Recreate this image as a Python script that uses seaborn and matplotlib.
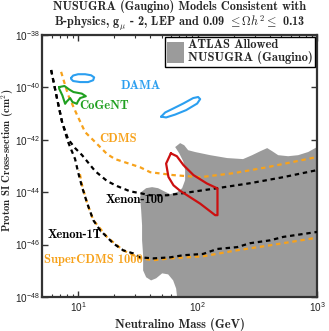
import numpy as np
import pandas as pd
import matplotlib
matplotlib.use("Agg")
import matplotlib.pyplot as plt
import seaborn as sns
from matplotlib.patches import Patch
from matplotlib.ticker import FixedLocator, FuncFormatter, LogLocator, NullLocator, NullFormatter

# ---------------- data (neutralino mass in GeV, log10 of sigma in cm^2) ----------------
xenon1t_mass = [5.95, 6.68, 7.35, 8.25, 9.44, 10.0, 10.8, 11.9, 13.4, 15.3, 17.5, 19.6, 23.8,
                28.9, 33.0, 42.5, 58.9, 75.7, 111, 146, 214, 275, 405, 520, 1000]
xenon1t_logsig = [-39.34, -40.45, -41.33, -42.09, -42.74, -43.24, -43.81, -44.42, -45.07, -45.46,
                  -45.72, -45.95, -46.22, -46.34, -46.49, -46.53, -46.49, -46.41, -46.36, -46.17,
                  -46.10, -45.95, -45.84, -45.71, -45.52]

xenon100_mass = [5.95, 6.68, 7.35, 8.25, 9.44, 10.8, 13.9, 17.5, 21.2, 27.2, 33.0, 40.1, 55.6,
                 75.7, 146, 275, 520, 1000]
xenon100_logsig = [-39.34, -40.45, -41.33, -41.98, -42.32, -42.59, -43.20, -43.58, -43.77, -43.97,
                   -44.04, -44.12, -44.12, -44.04, -43.85, -43.66, -43.43, -43.16]

cdms_mass = [7.21, 8.25, 9.81, 11.45, 13.9, 17.5, 20.4, 33.0, 40.1, 62.4, 105, 198, 382, 1000]
cdms_logsig = [-39.41, -40.29, -41.06, -41.71, -42.09, -42.55, -42.74, -43.05, -43.24, -43.35,
               -43.43, -43.28, -43.05, -42.66]

supercdms_mass = [10.2, 10.8, 11.9, 13.4, 17.5, 23.8, 33.0, 42.5, 58.9, 111, 214, 405, 1000]
supercdms_logsig = [-43.16, -43.74, -44.42, -45.07, -45.72, -46.22, -46.53, -46.60, -46.53,
                    -46.45, -46.22, -46.03, -45.74]

dama_low_mass = [8.74, 9.09, 10.0, 11.45, 12.85, 13.62, 13.36, 12.13, 10.4, 9.09, 8.74, 8.74]
dama_low_logsig = [-39.64, -39.55, -39.50, -39.50, -39.54, -39.62, -39.73, -39.80, -39.80,
                   -39.76, -39.68, -39.64]

dama_high_mass = [49.5, 53.5, 61.2, 75.7, 91.8, 101, 105, 99.1, 80.2, 64.9, 54.5, 49.5]
dama_high_logsig = [-41.12, -40.96, -40.83, -40.62, -40.41, -40.37, -40.45, -40.62, -40.87,
                    -41.04, -41.15, -41.12]

cogent_mass = [6.94, 7.69, 8.41, 9.14, 10.74, 11.61, 10.4, 9.95, 9.76, 8.97, 8.58, 8.05, 7.79,
               7.39, 6.94, 6.94]
cogent_logsig = [-39.99, -39.95, -40.08, -40.18, -40.24, -40.34, -40.41, -40.54, -40.63, -40.56,
                 -40.41, -40.54, -40.63, -40.31, -40.05, -39.99]

red_mass = [59.7, 54.5, 57.0, 62.8, 71.4, 105, 140.2, 146.6, 146.6, 119.5, 92.3, 76.1, 67.0, 59.7]
red_logsig = [-42.52, -42.91, -43.42, -43.74, -43.95, -44.44, -44.88, -44.88, -43.86, -43.67,
              -43.35, -42.97, -42.63, -42.52]

atlas_mass = [64.9, 71.4, 77.2, 83.3, 95.3, 127.3, 176.6, 240, 286, 334, 382, 421, 472, 572, 694,
              841, 1000, 1100, 1100, 71.4, 66.1, 62.4, 56.7, 50.5, 45.0, 40.8, 37.1, 35.0, 35.0,
              34.3, 34.3, 33.7, 33.0, 33.7, 37.1, 41.6, 46.7, 52.5, 58.9, 67.4, 74.2, 78.6, 78.6,
              75.7, 70.0]
atlas_logsig = [-42.28, -42.13, -42.21, -42.40, -42.47, -42.59, -42.70, -42.74, -42.59, -42.44,
                -42.32, -42.44, -42.59, -42.63, -42.59, -42.47, -42.28, -42.28, -49.0, -49.0,
                -47.68, -47.37, -47.14, -47.10, -47.29, -47.37, -47.25, -46.99, -46.41, -45.84,
                -45.27, -44.69, -44.20, -44.00, -43.85, -43.81, -43.85, -43.97, -44.08, -44.00,
                -43.85, -43.54, -43.16, -42.82, -42.51]

labels = ["DAMA", "CoGeNT", "CDMS", "Xenon-100", "Xenon-1T", "SuperCDMS 1000"]
label_mass = [33.7, 16.5, 21.6, 30.0, 9.44, 13.4]
label_logsig = [-39.95, -40.72, -41.98, -44.31, -45.65, -46.60]

x_ticks = [10, 100, 1000]
y_ticks_exp = [-48, -46, -44, -42, -40, -38]

# ---------------- style ----------------
sns.set_style("ticks")
plt.rcParams['font.family'] = ['cmb10', 'DejaVu Serif']
plt.rcParams['mathtext.fontset'] = 'cm'
plt.rcParams['axes.unicode_minus'] = False

BLUE = '#2b9ff0'
GREEN = '#20a020'
ORANGE = '#f7a21b'
RED = '#cc1010'
GRAY = '#9b9b9b'

fig = plt.figure(figsize=(3.29, 3.31), dpi=100)
ax = fig.add_axes([0.128, 0.103, 0.836, 0.7915])
ax.set_xscale('log')
ax.set_yscale('log')

def sig(v):
    return 10.0 ** np.asarray(v, dtype=float)

ax.fill(atlas_mass, sig(atlas_logsig), color=GRAY, lw=0, zorder=1)

dash = (0, (2.0, 1.7))
dash_shift = (1.85, (2.0, 1.7))
sns.lineplot(x=cdms_mass, y=sig(cdms_logsig), sort=False, estimator=None, ax=ax,
             color=ORANGE, lw=1.6, linestyle=dash, zorder=2)
sns.lineplot(x=supercdms_mass, y=sig(supercdms_logsig), sort=False, estimator=None, ax=ax,
             color=ORANGE, lw=1.6, linestyle=dash_shift, zorder=2)
sns.lineplot(x=xenon100_mass, y=sig(xenon100_logsig), sort=False, estimator=None, ax=ax,
             color='black', lw=1.6, linestyle=dash, zorder=3)
sns.lineplot(x=xenon1t_mass, y=sig(xenon1t_logsig), sort=False, estimator=None, ax=ax,
             color='black', lw=1.6, linestyle=dash, zorder=3)
sns.lineplot(x=red_mass, y=sig(red_logsig), sort=False, estimator=None, ax=ax,
             color=RED, lw=1.6, zorder=4)
sns.lineplot(x=dama_low_mass, y=sig(dama_low_logsig), sort=False, estimator=None, ax=ax,
             color=BLUE, lw=1.5, zorder=4)
sns.lineplot(x=dama_high_mass, y=sig(dama_high_logsig), sort=False, estimator=None, ax=ax,
             color=BLUE, lw=1.5, zorder=4)
sns.lineplot(x=cogent_mass, y=sig(cogent_logsig), sort=False, estimator=None, ax=ax,
             color=GREEN, lw=1.5, zorder=4)

label_colors = [BLUE, GREEN, ORANGE, 'black', 'black', ORANGE]
for t, m, s, c in zip(labels, label_mass, label_logsig, label_colors):
    ax.text(m, 10.0 ** s, t, color=c, fontsize=9, ha='center', va='center', zorder=6)

ax.set_xlim(5, 1000)
ax.set_ylim(1e-48, 1e-38)

ax.xaxis.set_major_locator(FixedLocator(x_ticks))
ax.xaxis.set_minor_locator(LogLocator(base=10, subs=np.arange(2, 10)))
ax.xaxis.set_minor_formatter(NullFormatter())
ax.yaxis.set_major_locator(FixedLocator([10.0 ** e for e in y_ticks_exp]))
ax.yaxis.set_minor_locator(NullLocator())
fmt = FuncFormatter(lambda v, p: r"$\mathregular{10^{%d}}$" % int(round(np.log10(v))))
ax.xaxis.set_major_formatter(fmt)
ax.yaxis.set_major_formatter(fmt)
for lab in ax.get_xticklabels() + ax.get_yticklabels():
    lab.set_fontfamily('Liberation Sans')
    lab.set_fontsize(7.2)
    lab.set_color('#222222')
ax.tick_params(which='both', direction='in', top=True, right=True, colors='#333333', labelcolor='#222222')
ax.tick_params(which='major', length=4, width=1.0, pad=2.5)
ax.tick_params(axis='y', which='major', pad=1.5)
ax.tick_params(which='minor', length=2.5, width=0.8)
for sp in ax.spines.values():
    sp.set_linewidth(1.6)
    sp.set_color('#333333')

ax.set_xlabel('Neutralino Mass (GeV)', fontsize=9, labelpad=3)
ax.set_ylabel(r'Proton SI Cross-section (cm$^{2}$)', fontsize=7.7)
ax.yaxis.set_label_coords(-0.094, 0.52)
ax.set_title('NUSUGRA (Gaugino) Models Consistent with\n'
             r'B-physics, g$_{\mu}$ - 2, LEP and 0.09 $\leq \Omega h^2 \leq$ 0.13',
             fontsize=8.8, pad=6, linespacing=1.0)

leg = ax.legend(handles=[Patch(facecolor=GRAY, edgecolor='none')],
                labels=['ATLAS Allowed\nNUSUGRA (Gaugino)'],
                loc='upper right', bbox_to_anchor=(0.993, 0.993), borderaxespad=0,
                fontsize=9, frameon=True, fancybox=False, handlelength=1.3, handleheight=2.2,
                handletextpad=0.35, borderpad=0.2, framealpha=1)
leg.get_frame().set_edgecolor('black')
leg.get_frame().set_linewidth(1.0)
leg.set_zorder(10)
for t in leg.get_texts():
    t.set_linespacing(1.0)

fig.savefig('out.png', dpi=100)
